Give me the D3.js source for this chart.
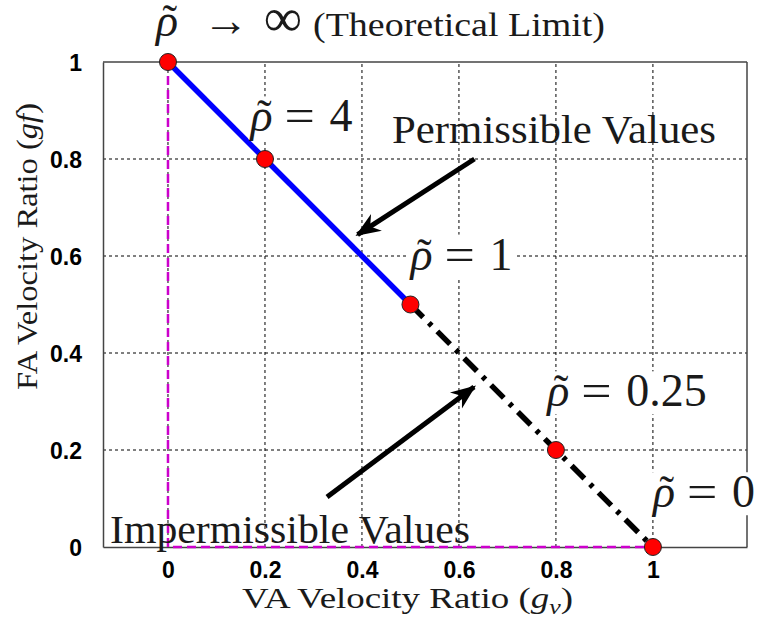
<!DOCTYPE html>
<html>
<head>
<meta charset="utf-8">
<script src="https://cdn.jsdelivr.net/npm/d3@7"></script>
<style>
  html, body { margin: 0; padding: 0; background: #fff; }
  svg { display: block; }
  .tick-label { font-family: "Liberation Sans", Arial, sans-serif; font-weight: bold; font-size: 23px; fill: #000; }
  .serif { font-family: "Liberation Serif", "Times New Roman", serif; fill: #1a1a1a; }
</style>
</head>
<body>
<svg id="chart" width="757" height="625"></svg>
<script>
// VA velocity ratio g_v and FA velocity ratio g_f for each marked rho value
const rhoLabels = ["\u221E", "4", "1", "0.25", "0"];
const gv = [0, 0.2, 0.5, 0.8, 1];
const gf = [1, 0.8, 0.5, 0.2, 0];
const xTicks = [0, 0.2, 0.4, 0.6, 0.8, 1];
const yTicks = [0, 0.2, 0.4, 0.6, 0.8, 1];
const xTickLabels = ["0", "0.2", "0.4", "0.6", "0.8", "1"];
const yTickLabels = ["0", "0.2", "0.4", "0.6", "0.8", "1"];

const svg = d3.select("#chart");
const margin = { left: 103, right: 10, top: 62, bottom: 78 };
const W = 757, H = 625;

const x = d3.scaleLinear().domain([-0.134, 1.194]).range([margin.left, W - margin.right]);
const y = d3.scaleLinear().domain([0, 1]).range([H - margin.bottom, margin.top]);

const pts = gv.map((v, i) => ({ gv: v, gf: gf[i], rho: rhoLabels[i] }));

// grid (dotted)
const grid = svg.append("g");
grid.selectAll("line.vx").data(xTicks).join("line")
  .attr("x1", d => x(d)).attr("x2", d => x(d))
  .attr("y1", y(0)).attr("y2", y(1))
  .attr("stroke", "#000").attr("stroke-width", 1).attr("stroke-dasharray", "3,3");
grid.selectAll("line.hy").data(yTicks.filter(d => d > 0 && d < 1)).join("line")
  .attr("x1", x.range()[0]).attr("x2", x.range()[1])
  .attr("y1", d => y(d)).attr("y2", d => y(d))
  .attr("stroke", "#000").attr("stroke-width", 1).attr("stroke-dasharray", "3,3");

// axes box
const xAxis = d3.axisBottom(x).tickValues(xTicks).tickFormat((d, i) => xTickLabels[i]).tickSize(0).tickPadding(14);
const yAxis = d3.axisLeft(y).tickValues(yTicks).tickFormat((d, i) => yTickLabels[i]).tickSize(0).tickPadding(21);
const gx = svg.append("g").attr("transform", `translate(0,${y(0)})`).call(xAxis);
const gy = svg.append("g").attr("transform", `translate(${x.range()[0]},0)`).call(yAxis);
[gx, gy].forEach(g => {
  g.select(".domain").attr("stroke", "#444").attr("stroke-width", 1.5);
  g.selectAll("text").attr("class", "tick-label").attr("dy", null);
});
gx.selectAll("text").attr("y", 31);
gy.selectAll("text").attr("dy", "0.36em");
svg.append("line").attr("x1", x.range()[0]).attr("x2", x.range()[1]).attr("y1", y(1)).attr("y2", y(1))
  .attr("stroke", "#444").attr("stroke-width", 1.5);
svg.append("line").attr("x1", x.range()[1]).attr("x2", x.range()[1]).attr("y1", y(0)).attr("y2", y(1))
  .attr("stroke", "#444").attr("stroke-width", 1.5);

// boundary of the region (magenta dashed)
const line = d3.line().x(d => x(d.gv)).y(d => y(d.gf));
svg.append("path")
  .attr("d", line([{ gv: 0, gf: 1 }, { gv: 0, gf: 0 }, { gv: 1, gf: 0 }]))
  .attr("fill", "none").attr("stroke", "#cc00cc").attr("stroke-width", 2.5).attr("stroke-dasharray", "9,5");

// permissible segment (rho >= 1) and impermissible segment (rho <= 1)
const iOne = rhoLabels.indexOf("1");
svg.append("path").attr("d", line(pts.slice(0, iOne + 1)))
  .attr("fill", "none").attr("stroke", "#0000ff").attr("stroke-width", 5.5);
svg.append("path").attr("d", line(pts.slice(iOne)))
  .attr("fill", "none").attr("stroke", "#000").attr("stroke-width", 5.5)
  .attr("stroke-dasharray", "18,8,4,8");

// rho with a tilde accent, drawn as its own glyph
function rhoGlyph(g, px, py, size) {
  g.append("text").attr("class", "serif").attr("x", px).attr("y", py)
    .attr("font-size", size).attr("font-style", "italic").text("\u03C1");
  g.append("text").attr("class", "serif").attr("x", px + size * 0.3).attr("y", py - size * 0.02)
    .attr("text-anchor", "middle").attr("font-size", size * 0.95).text("\u02DC");
}
function rhoLabel(px, py, value, size) {
  const g = svg.append("g");
  rhoGlyph(g, px, py, size);
  g.append("text").attr("class", "serif").attr("x", px + size * 0.74).attr("y", py).attr("font-size", size)
    .attr("textLength", size * 0.66).attr("lengthAdjust", "spacingAndGlyphs").text("=");
  g.append("text").attr("class", "serif").attr("x", px + size * 1.72).attr("y", py).attr("font-size", size)
    .text(value);
  return g;
}
function withBackground(g) {
  const b = g.node().getBBox();
  g.insert("rect", ":first-child").attr("x", b.x).attr("y", b.y + 6).attr("width", b.width + 2).attr("height", b.height - 8)
    .attr("fill", "#fff");
}

// arrows
const defs = svg.append("defs");
defs.append("marker").attr("id", "head").attr("viewBox", "0 0 10 10")
  .attr("refX", 9).attr("refY", 5).attr("markerWidth", 5).attr("markerHeight", 5)
  .attr("markerUnits", "strokeWidth").attr("orient", "auto")
  .append("path").attr("d", "M0,1 L10,5 L0,9 L3,5 Z").attr("fill", "#000");
const arrows = [
  { x1: 0.632, y1: 0.8, x2: 0.391, y2: 0.644 },
  { x1: 0.328, y1: 0.103, x2: 0.631, y2: 0.33 }
];
svg.selectAll("line.arrow").data(arrows).join("line")
  .attr("x1", d => x(d.x1)).attr("y1", d => y(d.y1))
  .attr("x2", d => x(d.x2)).attr("y2", d => y(d.y2))
  .attr("stroke", "#000").attr("stroke-width", 5).attr("marker-end", "url(#head)");

// rho annotations
const labelPos = [
  null,
  { gv: 0.17, gf: 0.857 },
  { gv: 0.5, gf: 0.572 },
  { gv: 0.782, gf: 0.29 },
  { gv: 1.0, gf: 0.082 }
];
labelPos.forEach((p, i) => {
  if (!p) return;
  const g = rhoLabel(x(p.gv), y(p.gf), rhoLabels[i], 46);
  withBackground(g);
});

// rho -> infinity (theoretical limit) above the top-left point
const tg = svg.append("g");
rhoGlyph(tg, 156, 36, 46);
tg.append("text").attr("class", "serif").attr("x", 226).attr("y", 36).attr("text-anchor", "middle")
  .attr("font-size", 46).text("\u2192");
tg.append("text").attr("class", "serif").attr("x", 283).attr("y", 36).attr("text-anchor", "middle")
  .attr("font-size", 54).text(rhoLabels[0]);
tg.append("text").attr("class", "serif").attr("x", 313).attr("y", 36).attr("font-size", 34)
  .attr("textLength", 292).attr("lengthAdjust", "spacingAndGlyphs").text("(Theoretical Limit)");

svg.append("text").attr("class", "serif").attr("x", 392).attr("y", 143).attr("font-size", 40)
  .attr("textLength", 324).attr("lengthAdjust", "spacingAndGlyphs").text("Permissible Values");
svg.append("text").attr("class", "serif").attr("x", 110).attr("y", 543).attr("font-size", 40)
  .attr("textLength", 360).attr("lengthAdjust", "spacingAndGlyphs").text("Impermissible Values");

// red markers
svg.selectAll("circle.pt").data(pts).join("circle")
  .attr("cx", d => x(d.gv)).attr("cy", d => y(d.gf)).attr("r", 8.5)
  .attr("fill", "#ff0000").attr("stroke", "#222").attr("stroke-width", 1);

// axis titles
const xl = svg.append("text").attr("class", "serif").attr("x", 242).attr("y", 608)
  .attr("font-size", 30).attr("textLength", 331).attr("lengthAdjust", "spacingAndGlyphs");
xl.append("tspan").text("VA Velocity Ratio (");
xl.append("tspan").attr("font-style", "italic").text("g");
xl.append("tspan").attr("font-style", "italic").attr("font-size", 21).attr("dy", 6).text("v");
xl.append("tspan").attr("dy", -6).text(")");

const yl = svg.append("text").attr("class", "serif")
  .attr("transform", `translate(37,${390}) rotate(-90)`)
  .attr("font-size", 30).attr("textLength", 287).attr("lengthAdjust", "spacingAndGlyphs");
yl.append("tspan").text("FA Velocity Ratio (");
yl.append("tspan").attr("font-style", "italic").text("gf");
yl.append("tspan").text(")");
</script>
</body>
</html>
